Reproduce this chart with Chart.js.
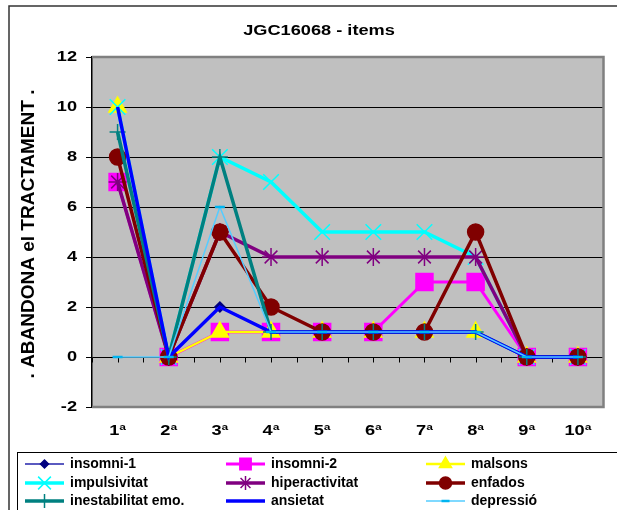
<!DOCTYPE html>
<html>
<head>
<meta charset="utf-8">
<title>JGC16068 - items</title>
<script src="https://cdn.jsdelivr.net/npm/chart.js@4.4.1/dist/chart.umd.min.js"></script>
<style>
  html, body { margin: 0; padding: 0; background: #fff; }
  canvas { display: block; }
</style>
</head>
<body>
<canvas id="chart" width="617" height="510"></canvas>
<script>
// JGC16068 - items: dropout per session, one line per item

const sessions = ['1ª', '2ª', '3ª', '4ª', '5ª', '6ª', '7ª', '8ª', '9ª', '10ª'];
const yTickValues = [-2, 0, 2, 4, 6, 8, 10, 12];

const seriesNames = [
    'insomni-1', 'insomni-2', 'malsons',
    'impulsivitat', 'hiperactivitat', 'enfados',
    'inestabilitat emo.', 'ansietat', 'depressió'
];

const insomni1       = [10, 0, 2, 1, 1, 1, 1, 1, 0, 0];
const insomni2       = [7, 0, 1, 1, 1, 1, 3, 3, 0, 0];
const malsons        = [10, 0, 1, 1, 1, 1, 1, 1, 0, 0];
const impulsivitat   = [10, 0, 8, 7, 5, 5, 5, 4, 0, 0];
const hiperactivitat = [7, 0, 5, 4, 4, 4, 4, 4, 0, 0];
const enfados        = [8, 0, 5, 2, 1, 1, 1, 5, 0, 0];
const inestabilitat  = [9, 0, 8, 1, 1, 1, 1, 1, 0, 0];
const ansietat       = [10, 0, 2, 1, 1, 1, 1, 1, 0, 0];
const depressio      = [0, 0, 6, 1, 1, 1, 1, 1, 0, 0];

const seriesValues = [insomni1, insomni2, malsons, impulsivitat, hiperactivitat,
    enfados, inestabilitat, ansietat, depressio];

// line colour, line width, marker style, marker size, marker colours
const seriesStyles = [
    { line: '#5a5ac0', width: 2,   style: 'rectRot',  r: 5,  fill: '#000080', stroke: '#000080', legendR: 4 },
    { line: '#ff00ff', width: 3,   style: 'rect',     r: 12, fill: '#ff00ff', stroke: '#ff00ff', legendR: 8 },
    { line: '#ffff00', width: 2.5, style: 'triangle', r: 10, fill: '#ffff00', stroke: '#ffff00', legendR: 7 },
    { line: '#00ffff', width: 3.5, style: 'crossRot', r: 11, fill: '#00ffff', stroke: '#00ffff', legendR: 9 },
    { line: '#800080', width: 3.5, style: 'star',     r: 9,  fill: '#800080', stroke: '#800080', legendR: 7 },
    { line: '#800000', width: 3.5, style: 'circle',   r: 8,  fill: '#800000', stroke: '#800000', legendR: 6 },
    { line: '#008080', width: 3.5, style: 'cross',    r: 8,  fill: '#008080', stroke: '#008080', legendR: 7 },
    { line: '#0000ff', width: 3.5, style: 'circle',   r: 0,  fill: '#0000ff', stroke: '#0000ff', legendR: 0 },
    { line: '#55ccff', width: 1.5, style: 'line',     r: 5,  fill: '#00b4f0', stroke: '#00b4f0', legendR: 4 }
];

const FONT = '"Liberation Sans", Arial, sans-serif';
const STRETCH = 1.3;

function stretchText(ctx, text, x, y, align, sx) {
    ctx.save();
    ctx.translate(x, y);
    ctx.scale(sx, 1);
    ctx.textAlign = align;
    ctx.fillText(text, 0, 0);
    ctx.restore();
}

const datasets = seriesNames.map(function (name, i) {
    const s = seriesStyles[i];
    return {
        label: name,
        data: seriesValues[i],
        borderColor: s.line,
        borderWidth: s.width,
        backgroundColor: s.fill,
        pointStyle: s.style,
        pointRadius: s.r,
        pointHoverRadius: s.r,
        pointBackgroundColor: s.fill,
        pointBorderColor: s.stroke,
        pointBorderWidth: s.style === 'line' ? 2.5 : 1.5,
        fill: false,
        tension: 0,
        // later series sit on top of earlier ones
        order: seriesNames.length - i
    };
});

const excelLook = {
    id: 'excelLook',
    beforeDraw: function (chart) {
        const ctx = chart.ctx;
        const a = chart.chartArea;
        ctx.save();
        ctx.fillStyle = '#ffffff';
        ctx.fillRect(0, 0, chart.width, chart.height);
        // outer frame
        ctx.strokeStyle = '#333333';
        ctx.lineWidth = 1.5;
        ctx.strokeRect(9, 6, 700, 600);
        // plot background
        ctx.fillStyle = '#c0c0c0';
        ctx.fillRect(a.left, a.top, a.right - a.left, a.bottom - a.top);
        ctx.restore();
    },
    beforeDatasetsDraw: function (chart) {
        const ctx = chart.ctx;
        const a = chart.chartArea;
        const x = chart.scales.x;
        const y = chart.scales.y;
        ctx.save();
        // grey plot frame on top, right and bottom
        ctx.strokeStyle = '#808080';
        ctx.lineWidth = 2.5;
        ctx.beginPath();
        ctx.moveTo(a.left, a.top);
        ctx.lineTo(a.right, a.top);
        ctx.lineTo(a.right, a.bottom);
        ctx.lineTo(a.left, a.bottom);
        ctx.stroke();
        // category tick marks along the zero line
        const y0 = Math.round(y.getPixelForValue(0)) + 0.5;
        const half = (x.getPixelForValue(1) - x.getPixelForValue(0)) / 2;
        ctx.strokeStyle = '#000000';
        ctx.lineWidth = 1;
        ctx.beginPath();
        for (let i = 0; i < sessions.length; i++) {
            const cx = x.getPixelForValue(i);
            [cx - half, cx].forEach(function (px) {
                const p = Math.round(px) + 0.5;
                ctx.moveTo(p, y0);
                ctx.lineTo(p, y0 + 5);
            });
        }
        ctx.stroke();
        ctx.restore();
    },
    afterDraw: function (chart) {
        const ctx = chart.ctx;
        const x = chart.scales.x;
        const y = chart.scales.y;
        ctx.save();
        ctx.fillStyle = '#000000';
        ctx.textBaseline = 'middle';

        // title
        ctx.font = 'bold 14px ' + FONT;
        stretchText(ctx, 'JGC16068 - items', 319, 31, 'center', STRETCH);

        // y tick labels
        yTickValues.forEach(function (v) {
            stretchText(ctx, String(v), 77, y.getPixelForValue(v), 'right', STRETCH);
        });

        // category labels
        sessions.forEach(function (label, i) {
            stretchText(ctx, label, x.getPixelForValue(i), 431, 'center', STRETCH);
        });

        // y axis title
        ctx.save();
        ctx.translate(29, 234);
        ctx.rotate(-Math.PI / 2);
        ctx.font = 'bold 19px ' + FONT;
        ctx.textAlign = 'center';
        ctx.fillText('. ABANDONA el TRACTAMENT .', 0, 0);
        ctx.restore();

        // legend box, three columns
        ctx.strokeStyle = '#000000';
        ctx.lineWidth = 1;
        ctx.strokeRect(17.5, 452.5, 700, 100);
        const colX = [25, 226, 426];
        const rowY = [464, 483, 501];
        ctx.font = 'bold 14px ' + FONT;
        seriesNames.forEach(function (name, i) {
            const s = seriesStyles[i];
            const lx = colX[i % 3];
            const ly = rowY[Math.floor(i / 3)];
            ctx.strokeStyle = s.line;
            ctx.lineWidth = s.width;
            ctx.beginPath();
            ctx.moveTo(lx, ly);
            ctx.lineTo(lx + 39, ly);
            ctx.stroke();
            if (s.legendR > 0) {
                ctx.fillStyle = s.fill;
                ctx.strokeStyle = s.stroke;
                ctx.lineWidth = s.style === 'line' ? 2.5 : 1.5;
                Chart.helpers.drawPoint(ctx, {
                    pointStyle: s.style,
                    radius: s.legendR,
                    rotation: 0,
                    borderWidth: 1
                }, lx + 19.5, ly);
            }
            ctx.fillStyle = '#000000';
            ctx.textAlign = 'left';
            ctx.fillText(name, lx + 45, ly);
        });
        ctx.restore();
    }
};

new Chart(document.getElementById('chart'), {
    type: 'line',
    data: { labels: sessions, datasets: datasets },
    options: {
        responsive: false,
        animation: false,
        events: [],
        layout: { padding: { left: 0, top: 57, right: 3, bottom: 0 } },
        scales: {
            x: {
                type: 'category',
                offset: true,
                grid: { display: false },
                border: { display: false },
                ticks: { display: false },
                afterFit: function (scale) { scale.height = 103; }
            },
            y: {
                min: -2,
                max: 12,
                ticks: { stepSize: 2, display: false },
                grid: { color: '#000000', lineWidth: 1, tickLength: 6, drawTicks: true },
                border: { color: '#000000', width: 1.5 },
                afterFit: function (scale) { scale.width = 92; }
            }
        },
        plugins: {
            legend: { display: false },
            title: { display: false },
            tooltip: { enabled: false }
        }
    },
    plugins: [excelLook]
});
</script>
</body>
</html>
